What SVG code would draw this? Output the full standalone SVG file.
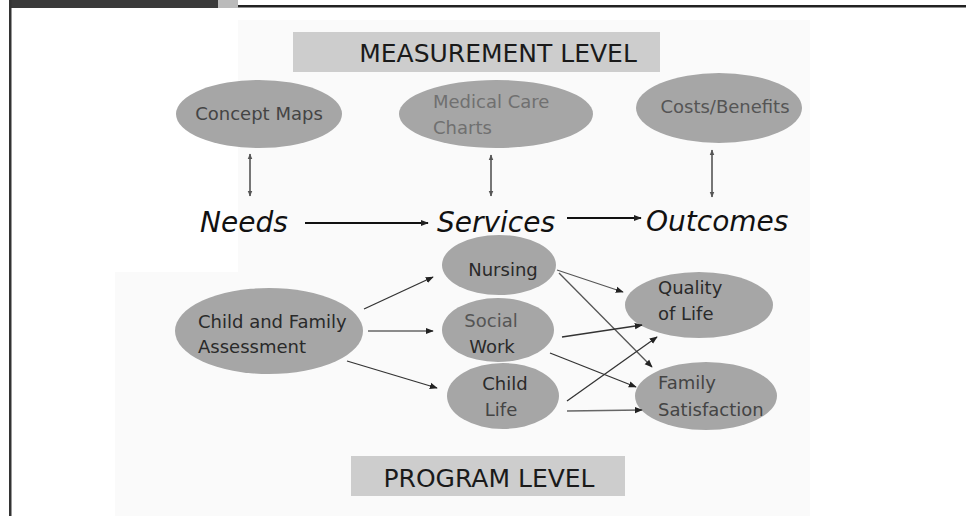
<svg xmlns="http://www.w3.org/2000/svg" width="966" height="516" viewBox="0 0 966 516">
<defs>
<style>
.bg{fill:#fafafa}
.box{fill:#cdcdcd}
.node{fill:#a6a6a6}
.lvl{font-family:"DejaVu Sans","Verdana",sans-serif;font-size:25px;fill:#1a1a1a}
.lbl{font-family:"DejaVu Sans","Verdana",sans-serif;font-size:18px;fill:#2a2a2a}
.big{font-family:"DejaVu Sans","Verdana",sans-serif;font-size:28px;font-style:italic;fill:#111}
.c{text-anchor:middle}
.edge{stroke:#333;stroke-width:1.3;fill:none}
.dbl{stroke:#555;stroke-width:1.6;fill:none}
</style>
<marker id="ah" viewBox="0 0 10 10" refX="9" refY="5" markerWidth="8" markerHeight="8" markerUnits="userSpaceOnUse" orient="auto">
<path d="M0,1 L10,5 L0,9 z" fill="#222"/>
</marker>
<marker id="ahs" viewBox="0 0 10 10" refX="9" refY="5" markerWidth="6" markerHeight="6" markerUnits="userSpaceOnUse" orient="auto-start-reverse">
<path d="M0,1 L10,5 L0,9 z" fill="#555"/>
</marker>
</defs>
<rect width="966" height="516" fill="#fff"/>
<rect class="bg" x="238" y="20" width="572" height="252"/>
<rect class="bg" x="115" y="272" width="695" height="244"/>
<g id="frame">
<rect x="10" y="0" width="208" height="8" fill="#3a3a3a"/>
<rect x="218" y="0" width="20" height="8" fill="#bbb"/>
<rect x="238" y="5" width="728" height="2.5" fill="#222"/>
<rect x="9" y="0" width="2.5" height="516" fill="#333"/>
</g>
<g id="measurement-level">
<rect class="box" x="293" y="32" width="367" height="40"/>
<text class="lvl" x="498" y="62" text-anchor="middle">MEASUREMENT LEVEL</text>
</g>
<g id="program-level">
<rect class="box" x="351" y="456" width="274" height="40"/>
<text class="lvl" x="489" y="487" text-anchor="middle">PROGRAM LEVEL</text>
</g>
<g id="concept-maps">
<ellipse class="node" cx="259" cy="114" rx="83" ry="34"/>
<text class="lbl c" x="259" y="120" style="fill:#444">Concept Maps</text>
</g>
<g id="medical-care-charts">
<ellipse class="node" cx="496" cy="114" rx="97" ry="34"/>
<text class="lbl" x="433" y="108" style="fill:#707070">Medical Care</text>
<text class="lbl" x="433" y="134" style="fill:#707070">Charts</text>
</g>
<g id="costs-benefits">
<ellipse class="node" cx="719" cy="108" rx="83" ry="35"/>
<text class="lbl c" x="725" y="113" style="fill:#555">Costs/Benefits</text>
</g>
<g id="needs"><text class="big" x="200" y="232">Needs</text></g>
<g id="services"><text class="big" x="437" y="232">Services</text></g>
<g id="outcomes"><text class="big" x="646" y="231">Outcomes</text></g>
<g id="assessment">
<ellipse class="node" cx="269" cy="331" rx="94" ry="43"/>
<text class="lbl" x="198" y="328">Child and Family</text>
<text class="lbl" x="198" y="353">Assessment</text>
</g>
<g id="nursing">
<ellipse class="node" cx="499" cy="265" rx="57" ry="30"/>
<text class="lbl c" x="503" y="276">Nursing</text>
</g>
<g id="social-work">
<ellipse class="node" cx="498" cy="330" rx="56" ry="32"/>
<text class="lbl c" x="491" y="327" style="fill:#555">Social</text>
<text class="lbl c" x="492" y="353">Work</text>
</g>
<g id="child-life">
<ellipse class="node" cx="503" cy="396" rx="56" ry="33"/>
<text class="lbl c" x="505" y="390">Child</text>
<text class="lbl c" x="501" y="416" style="fill:#444">Life</text>
</g>
<g id="quality-of-life">
<ellipse class="node" cx="699" cy="305" rx="74" ry="33"/>
<text class="lbl" x="658" y="294">Quality</text>
<text class="lbl" x="658" y="320">of Life</text>
</g>
<g id="family-satisfaction">
<ellipse class="node" cx="706" cy="396" rx="71" ry="34"/>
<text class="lbl" x="658" y="389" style="fill:#444">Family</text>
<text class="lbl" x="658" y="416" style="fill:#444">Satisfaction</text>
</g>
<g id="connectors">
<line class="dbl" x1="250" y1="154" x2="250" y2="196" marker-start="url(#ahs)" marker-end="url(#ahs)"/>
<line class="dbl" x1="491" y1="155" x2="491" y2="196" marker-start="url(#ahs)" marker-end="url(#ahs)"/>
<line class="dbl" x1="712" y1="150" x2="712" y2="197" marker-start="url(#ahs)" marker-end="url(#ahs)"/>
<line class="edge" x1="305" y1="223" x2="428" y2="223" marker-end="url(#ah)" style="stroke-width:2;stroke:#111"/>
<line class="edge" x1="567" y1="218" x2="641" y2="218" marker-end="url(#ah)" style="stroke-width:2;stroke:#111"/>
<line class="edge" x1="364" y1="309" x2="433" y2="277" marker-end="url(#ah)"/>
<line class="edge" x1="368" y1="331" x2="433" y2="331" marker-end="url(#ah)" style="stroke:#666"/>
<line class="edge" x1="347" y1="361" x2="437" y2="388" marker-end="url(#ah)"/>
<line class="edge" x1="557" y1="270" x2="623" y2="292" marker-end="url(#ah)" style="stroke:#555"/>
<line class="edge" x1="559" y1="273" x2="652" y2="367" marker-end="url(#ah)" style="stroke:#555"/>
<line class="edge" x1="562" y1="337" x2="642" y2="325" marker-end="url(#ah)"/>
<line class="edge" x1="550" y1="353" x2="636" y2="387" marker-end="url(#ah)"/>
<line class="edge" x1="567" y1="401" x2="657" y2="337" marker-end="url(#ah)"/>
<line class="edge" x1="567" y1="411" x2="642" y2="410" marker-end="url(#ah)" style="stroke:#666"/>
</g>
</svg>
